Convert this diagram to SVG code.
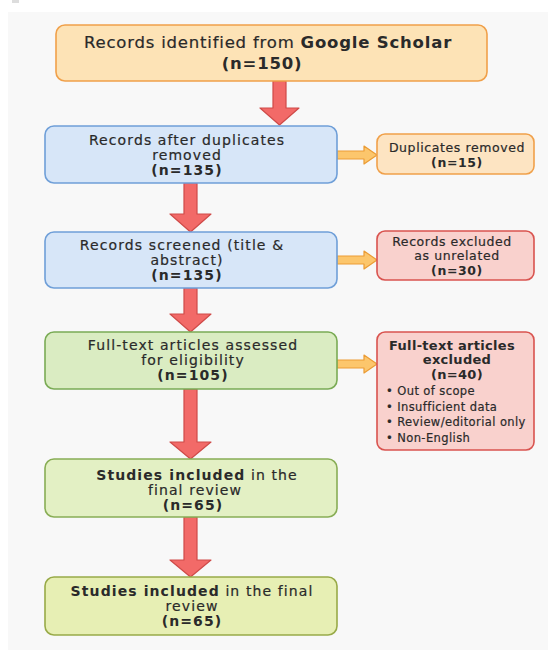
<svg xmlns="http://www.w3.org/2000/svg" width="548" height="650" viewBox="0 0 548 650">
<style>
text{font-family:"DejaVu Sans","Liberation Sans",sans-serif;fill:#2a2a2a;text-anchor:middle;stroke:#2a2a2a;stroke-width:0.2}
.b{font-weight:700;stroke-width:0}
.t{font-size:16.5px;letter-spacing:0.8px}
.m{font-size:14px;letter-spacing:1.1px}
.h{font-size:12.5px;letter-spacing:0.6px}
.hb{font-size:13px;letter-spacing:0.3px;font-weight:700;stroke-width:0}
.s{font-size:11.5px;letter-spacing:0.4px;text-anchor:start}
.down{fill:#f26a68;stroke:#cf4a48;stroke-width:1.2;stroke-linejoin:round}
.right{fill:#fcc66c;stroke:#eb9c35;stroke-width:1.2;stroke-linejoin:round}
</style>
<rect x="0" y="0" width="548" height="650" fill="#ffffff"/>
<rect x="8" y="12" width="540" height="638" fill="#f8f8f8"/>
<rect x="12" y="0" width="7" height="3" fill="#dddddd"/>
<g id="connectors">
<path class="down" d="M273,81 H286 V108 H299 L279.5,125 L260,108 H273 Z"/>
<path class="down" d="M184,183 H197 V214 H211 L190.5,232 L170,214 H184 Z"/>
<path class="down" d="M184,288 H197 V314 H211 L190.5,332 L170,314 H184 Z"/>
<path class="down" d="M184,389 H197 V442 H211 L190.5,459 L170,442 H184 Z"/>
<path class="down" d="M184,517 H197 V560 H211 L190.5,577 L170,560 H184 Z"/>
<path class="right" d="M337,151 H364 V146 L377,155 L364,164 V159 H337 Z"/>
<path class="right" d="M337,256 H364 V251 L377,260 L364,269 V264 H337 Z"/>
<path class="right" d="M337,360 H364 V355 L377,364 L364,373 V368 H337 Z"/>
</g>
<g id="n1">
<rect x="56" y="25" width="431" height="56" rx="9" fill="#fde3b6" stroke="#f0a04a" stroke-width="1.6"/>
<text class="t" x="268" y="48">Records identified from <tspan class="b">Google Scholar</tspan></text>
<text class="t b" x="262" y="69">(n=150)</text>
</g>
<g id="n2">
<rect x="45" y="126" width="292" height="57" rx="9" fill="#d7e6f8" stroke="#6f9fd8" stroke-width="1.6"/>
<text class="m" x="187" y="145">Records after duplicates</text>
<text class="m" x="187" y="160">removed</text>
<text class="m b" x="187" y="175">(n=135)</text>
</g>
<g id="n3">
<rect x="377" y="134" width="157" height="40" rx="8" fill="#fde4c2" stroke="#f0a04a" stroke-width="1.6"/>
<text class="h" x="457" y="152">Duplicates removed</text>
<text class="h b" x="457" y="167">(n=15)</text>
</g>
<g id="n4">
<rect x="45" y="232" width="292" height="56" rx="9" fill="#d7e6f8" stroke="#6f9fd8" stroke-width="1.6"/>
<text class="m" x="182" y="250">Records screened (title &amp;</text>
<text class="m" x="187" y="265">abstract)</text>
<text class="m b" x="187" y="280">(n=135)</text>
</g>
<g id="n5">
<rect x="377" y="231" width="157" height="49" rx="8" fill="#f9d1cd" stroke="#d9534f" stroke-width="1.6"/>
<text class="h" x="452" y="246">Records excluded</text>
<text class="h" x="457" y="260">as unrelated</text>
<text class="h b" x="457" y="275">(n=30)</text>
</g>
<g id="n6">
<rect x="45" y="332" width="292" height="57" rx="9" fill="#daecc2" stroke="#7aab55" stroke-width="1.6"/>
<text class="m" x="193" y="350">Full-text articles assessed</text>
<text class="m" x="193" y="365">for eligibility</text>
<text class="m b" x="193" y="380">(n=105)</text>
</g>
<g id="n7">
<rect x="377" y="332" width="157" height="118" rx="8" fill="#f9d1cd" stroke="#d9534f" stroke-width="1.6"/>
<text class="hb" x="452" y="350">Full-text articles</text>
<text class="hb" x="457" y="364">excluded</text>
<text class="hb" x="457" y="379">(n=40)</text>
<text class="s" x="386" y="395">• Out of scope</text>
<text class="s" x="386" y="411">• Insufficient data</text>
<text class="s" x="386" y="426">• Review/editorial only</text>
<text class="s" x="386" y="442">• Non-English</text>
</g>
<g id="n8">
<rect x="45" y="459" width="292" height="58" rx="9" fill="#e3f0c4" stroke="#88ad55" stroke-width="1.6"/>
<text class="m" x="197" y="480"><tspan class="b">Studies included</tspan> in the</text>
<text class="m" x="195" y="495">final review</text>
<text class="m b" x="193" y="510">(n=65)</text>
</g>
<g id="n9">
<rect x="45" y="577" width="292" height="58" rx="9" fill="#e7efb4" stroke="#98aa48" stroke-width="1.6"/>
<text class="m" x="192" y="596"><tspan class="b">Studies included</tspan> in the final</text>
<text class="m" x="192" y="611">review</text>
<text class="m b" x="192" y="626">(n=65)</text>
</g>
</svg>
